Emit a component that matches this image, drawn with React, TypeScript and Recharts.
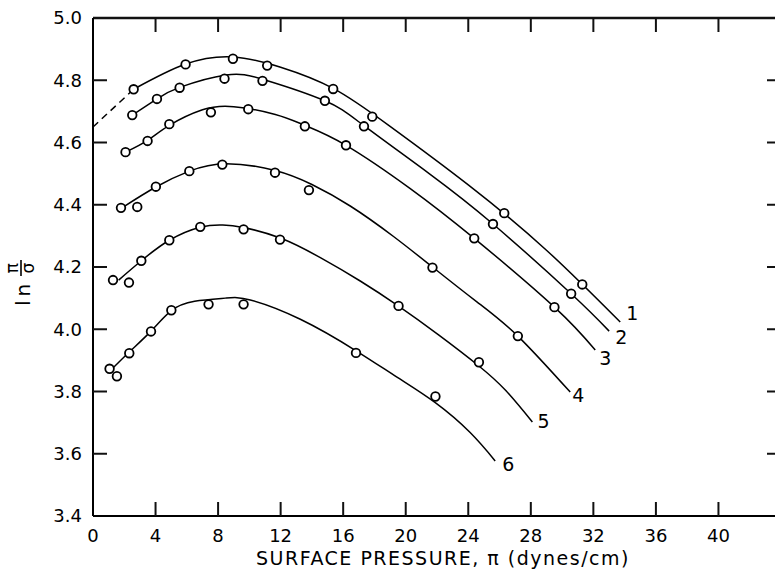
import React from 'react';
import { ComposedChart, Line, Scatter, XAxis, YAxis, ReferenceLine } from 'recharts';

type Pt = [number, number];

const xTicks = [0, 4, 8, 12, 16, 20, 24, 28, 32, 36, 40];
const yTicks = [3.4, 3.6, 3.8, 4.0, 4.2, 4.4, 4.6, 4.8, 5.0];
const curveLabels = ['1', '2', '3', '4', '5', '6'];

// measured points (open circles)
const points1: Pt[] = [[2.6, 4.771], [5.92, 4.851], [8.95, 4.869], [11.14, 4.847], [15.36, 4.772], [17.86, 4.683], [26.3, 4.373], [31.29, 4.144]];
const points2: Pt[] = [[2.51, 4.688], [4.09, 4.74], [5.54, 4.776], [8.41, 4.805], [10.84, 4.798], [14.83, 4.734], [17.33, 4.652], [25.58, 4.338], [30.58, 4.114]];
const points3: Pt[] = [[2.08, 4.569], [3.49, 4.605], [4.88, 4.659], [7.54, 4.697], [9.93, 4.707], [13.55, 4.652], [16.18, 4.591], [24.38, 4.292], [29.51, 4.071]];
const points4: Pt[] = [[1.79, 4.39], [2.83, 4.393], [4.02, 4.458], [6.16, 4.508], [8.27, 4.529], [11.64, 4.503], [13.81, 4.447], [21.71, 4.198], [27.17, 3.978]];
const points5: Pt[] = [[1.28, 4.158], [2.3, 4.15], [3.09, 4.22], [4.88, 4.286], [6.86, 4.329], [9.63, 4.321], [11.96, 4.288], [19.54, 4.075], [24.68, 3.894]];
const points6: Pt[] = [[1.06, 3.873], [1.53, 3.849], [2.32, 3.923], [3.71, 3.993], [5.01, 4.061], [7.39, 4.08], [9.63, 4.08], [16.82, 3.924], [21.9, 3.784]];

// drawn curves
const curve1Dashed: Pt[] = [[0, 4.65], [2.6, 4.771]];
const curve1: Pt[] = [[2.6, 4.771], [5.92, 4.852], [8.97, 4.875], [12, 4.842], [15.36, 4.774], [19, 4.652], [24, 4.464], [29, 4.254], [33.72, 4.023]];
const curve2: Pt[] = [[2.51, 4.688], [4.09, 4.74], [5.54, 4.777], [8.5, 4.817], [11, 4.801], [14.83, 4.734], [17.33, 4.654], [21.5, 4.5], [25.58, 4.338], [30.58, 4.114], [33.01, 3.994]];
const curve3: Pt[] = [[2.08, 4.569], [3.49, 4.607], [4.88, 4.655], [7, 4.705], [9, 4.715], [11.66, 4.69], [13.55, 4.655], [16.18, 4.591], [20.29, 4.452], [24.38, 4.292], [29.51, 4.071], [32.12, 3.933]];
const curve4: Pt[] = [[1.85, 4.39], [4.02, 4.457], [6.16, 4.508], [8.5, 4.532], [11.65, 4.51], [14, 4.465], [16.45, 4.396], [19.22, 4.298], [21.71, 4.2], [24.55, 4.088], [27.17, 3.978], [30.52, 3.798]];
const curve5: Pt[] = [[1.64, 4.158], [3.09, 4.22], [4.88, 4.286], [6.86, 4.328], [8.3, 4.335], [9.61, 4.327], [11.98, 4.293], [14.54, 4.23], [17.09, 4.155], [19.52, 4.075], [22.1, 3.982], [24.68, 3.882], [26.4, 3.803], [28.1, 3.702]];
const curve6: Pt[] = [[1.15, 3.869], [2.32, 3.927], [3.71, 3.994], [5.01, 4.06], [6.5, 4.09], [8.46, 4.1], [10.06, 4.094], [13.26, 4.032], [16.85, 3.93], [19.44, 3.846], [21.89, 3.764], [24.12, 3.668], [25.72, 3.577]];

const curves = [curve1, curve2, curve3, curve4, curve5, curve6];
const pointSets = [points1, points2, points3, points4, points5, points6];

const toRows = (pts: Pt[]) => pts.map(([x, y]) => ({ x, y }));

const FONT = '"DejaVu Sans", sans-serif';

// chart geometry
const W = 790;
const H = 571;
const Y_AXIS_W = 93;
const X_AXIS_H = 55;
const M_TOP = 18;
const M_RIGHT = 9;
const PLOT_W = W - M_RIGHT - Y_AXIS_W;
const PLOT_H = H - M_TOP - X_AXIS_H;
const INNER = 14;

// small nudges so the numbers sit where the lettering does
const labelDy = [-2, 13, 15, 10, 6, 10];
const labelDx = [6, 6, 4, 2, 5, 7];

const Circle = (props: any) => (
  <circle cx={props.cx} cy={props.cy} r={4.3} fill="#fff" stroke="#000" strokeWidth={1.8} />
);

// tick label plus the inward tick marks at bottom and top
const XTick = (props: any) => {
  const { x, y, payload } = props;
  const v = Number(payload.value);
  const len = v > 0 ? INNER : 0;
  return (
    <g>
      <line x1={x} x2={x} y1={y - 13} y2={y - 13 - len} stroke="#111" strokeWidth={2} />
      <line x1={x} x2={x} y1={y - 13 - PLOT_H} y2={y - 13 - PLOT_H + len} stroke="#111" strokeWidth={2} />
      <text x={x} y={y} dy="0.71em" textAnchor="middle" fontFamily={FONT} fontSize={18} fill="#000">
        {v}
      </text>
    </g>
  );
};

// tick label plus the inward tick marks at left and right
const YTick = (props: any) => {
  const { x, y, payload } = props;
  const v = Number(payload.value);
  const len = v > 3.41 && v < 4.99 ? INNER : 0;
  return (
    <g>
      <line x1={x + 11} x2={x + 11 + len} y1={y} y2={y} stroke="#111" strokeWidth={2} />
      <line x1={x + 11 + PLOT_W} x2={x + 11 + PLOT_W - len} y1={y} y2={y} stroke="#111" strokeWidth={2} />
      <text x={x} y={y} dy="0.355em" textAnchor="end" fontFamily={FONT} fontSize={18} fill="#000">
        {v.toFixed(1)}
      </text>
    </g>
  );
};

const YTitle = (props: any) => {
  const vb = props.viewBox || { x: 0, y: 0, width: 0, height: 0 };
  const ox = vb.x + 30;
  const oy = vb.y + vb.height / 2 + 39;
  return (
    <g transform={`translate(${ox},${oy}) rotate(-90)`} fontFamily={FONT} fill="#000">
      <text x={0} y={0} fontSize={20} letterSpacing={4}>ln</text>
      <text x={38} y={-12} fontSize={17} textAnchor="middle">π</text>
      <line x1={30} x2={46} y1={-9} y2={-9} stroke="#000" strokeWidth={1.6} />
      <text x={38} y={4} fontSize={17} textAnchor="middle">σ</text>
    </g>
  );
};

const XTitle = (props: any) => {
  const vb = props.viewBox || { x: 0, y: 0, width: 0, height: 0 };
  return (
    <text x={vb.x + 350} y={vb.y + 49} textAnchor="middle" fontFamily={FONT} fontSize={19} letterSpacing={1.5} fill="#000">
      SURFACE PRESSURE, π (dynes/cm)
    </text>
  );
};

const endLabel = (i: number, last: number) => (props: any) => {
  if (props.index !== last) return null;
  return (
    <text x={props.x + labelDx[i]} y={props.y + labelDy[i]} fontFamily={FONT} fontSize={19} fill="#000">
      {curveLabels[i]}
    </text>
  );
};

export default function App() {
  return (
    <div style={{ position: 'absolute', left: 0, top: 0, width: 775, height: 571, overflow: 'hidden', background: '#fff' }}>
      <ComposedChart width={W} height={H} margin={{ top: M_TOP, right: M_RIGHT, bottom: 0, left: 0 }}>
        <XAxis
          dataKey="x"
          type="number"
          domain={[0, 44]}
          ticks={xTicks}
          interval={0}
          tickLine={false}
          tickSize={11}
          tickMargin={2}
          height={X_AXIS_H}
          axisLine={{ stroke: '#000', strokeWidth: 2 }}
          tick={<XTick />}
          label={<XTitle />}
        />
        <YAxis
          dataKey="y"
          type="number"
          domain={[3.4, 5.0]}
          ticks={yTicks}
          interval={0}
          width={Y_AXIS_W}
          tickLine={false}
          tickSize={9}
          tickMargin={2}
          axisLine={{ stroke: '#000', strokeWidth: 2 }}
          tick={<YTick />}
          label={<YTitle />}
        />

        <Line
          data={toRows(curve1Dashed)}
          dataKey="y"
          type="linear"
          stroke="#000"
          strokeWidth={1.5}
          strokeDasharray="7 5"
          dot={false}
          activeDot={false}
          isAnimationActive={false}
        />
        {curves.map((c, i) => (
          <Line
            key={'c' + i}
            data={toRows(c)}
            dataKey="y"
            type="natural"
            stroke="#000"
            strokeWidth={1.5}
            dot={false}
            activeDot={false}
            label={endLabel(i, c.length - 1)}
            isAnimationActive={false}
          />
        ))}
        {pointSets.map((p, i) => (
          <Scatter
            key={'p' + i}
            data={toRows(p)}
            dataKey="y"
            shape={Circle}
            isAnimationActive={false}
          />
        ))}
        <ReferenceLine y={5.0} stroke="#111" strokeWidth={2.5} />
        <ReferenceLine x={44} stroke="#111" strokeWidth={2.5} />
      </ComposedChart>
    </div>
  );
}
